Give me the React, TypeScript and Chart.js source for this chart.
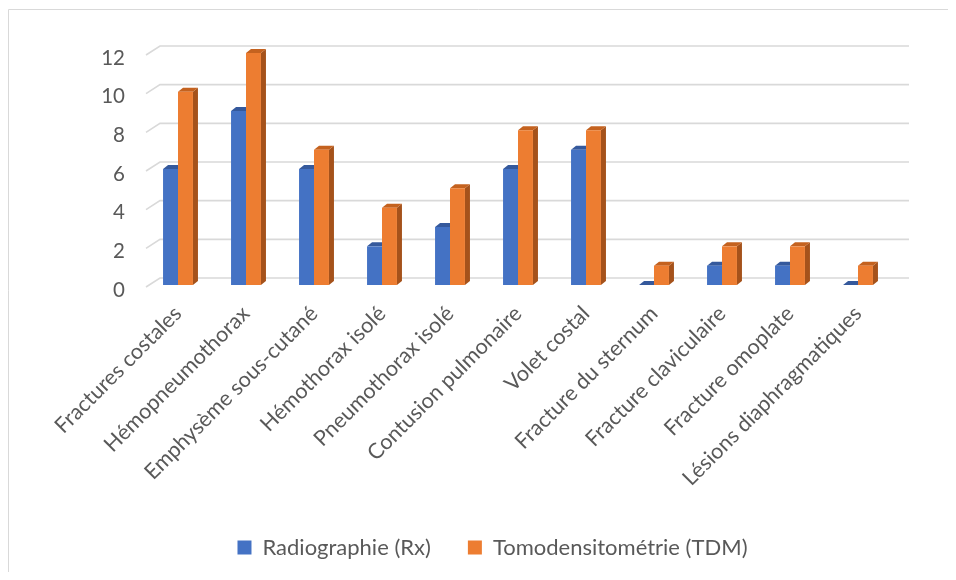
import React, { useEffect, useRef } from "react";
import { Chart, registerables } from "chart.js";

Chart.register(...registerables);

const categories = [
  "Fractures costales",
  "Hémopneumothorax",
  "Emphysème sous-cutané",
  "Hémothorax isolé",
  "Pneumothorax isolé",
  "Contusion pulmonaire",
  "Volet costal",
  "Fracture du sternum",
  "Fracture claviculaire",
  "Fracture omoplate",
  "Lésions diaphragmatiques",
];
const rxValues = [6, 9, 6, 2, 3, 6, 7, 0, 1, 1, 0];
const tdmValues = [10, 12, 7, 4, 5, 8, 8, 1, 2, 2, 1];
const seriesNames = ["Radiographie (Rx)", "Tomodensitométrie (TDM)"];
const yMin = 0;
const yMax = 12;
const yStep = 2;

const FONT = "Lato, 'Open Sans', sans-serif";
const TEXT = "#595959";
const front = ["#4472C4", "#ED7D31"];
const topCol = ["#35599C", "#C4621F"];
const sideCol = ["#2F5597", "#A5521B"];

const depthPlugin = {
  id: "depth3d",
  beforeDraw(chart: any) {
    const { ctx, width, height } = chart;
    ctx.save();
    ctx.strokeStyle = "#d9d9d9";
    ctx.lineWidth = 1;
    ctx.beginPath();
    ctx.moveTo(0.5, height);
    ctx.lineTo(0.5, 1.5);
    ctx.lineTo(width, 1.5);
    ctx.stroke();
    ctx.restore();
  },
  beforeDatasetsDraw(chart: any) {
    const { ctx, chartArea } = chart;
    const ys = chart.scales.y;
    ctx.save();
    ctx.strokeStyle = "#d9d9d9";
    ctx.lineWidth = 1.6;
    ys.ticks.forEach((t: any) => {
      const p = ys.getPixelForValue(t.value);
      ctx.beginPath();
      ctx.moveTo(chartArea.left + 2, p + 2);
      ctx.lineTo(chartArea.left + 16, p - 7);
      ctx.lineTo(chartArea.right + 17, p - 7);
      ctx.stroke();
    });
    const dx = 5;
    const dy = 4;
    chart.data.datasets.forEach((_: any, di: number) => {
      const meta = chart.getDatasetMeta(di);
      meta.data.forEach((el: any) => {
        const { x, y, base, width } = el.getProps(["x", "y", "base", "width"], true);
        const l = x - width / 2;
        const r = x + width / 2;
        ctx.fillStyle = sideCol[di];
        ctx.beginPath();
        ctx.moveTo(r, y);
        ctx.lineTo(r + dx, y - dy);
        ctx.lineTo(r + dx, base - dy);
        ctx.lineTo(r, base);
        ctx.closePath();
        ctx.fill();
        ctx.fillStyle = topCol[di];
        ctx.beginPath();
        ctx.moveTo(l, y);
        ctx.lineTo(l + dx, y - dy);
        ctx.lineTo(r + dx, y - dy);
        ctx.lineTo(r, y);
        ctx.closePath();
        ctx.fill();
      });
    });
    ctx.restore();
  },
};

export default function App() {
  const ref = useRef<HTMLCanvasElement | null>(null);
  useEffect(() => {
    if (!ref.current) return;
    Chart.defaults.font.family = FONT;
    const chart = new Chart(ref.current, {
      type: "bar",
      data: {
        labels: categories,
        datasets: [
          {
            label: seriesNames[0],
            data: rxValues,
            backgroundColor: front[0],
            borderWidth: 0,
            categoryPercentage: 0.44,
            barPercentage: 1,
          },
          {
            label: seriesNames[1],
            data: tdmValues,
            backgroundColor: front[1],
            borderWidth: 0,
            categoryPercentage: 0.44,
            barPercentage: 1,
          },
        ],
      },
      options: {
        responsive: false,
        animation: false,
        layout: { padding: { left: 85, right: 56, top: 45, bottom: 3.5 } },
        plugins: {
          tooltip: { enabled: false },
          legend: {
            position: "bottom",
            labels: {
              boxWidth: 14,
              boxHeight: 14,
              padding: 37,
              color: TEXT,
              font: { size: 22, family: FONT },
            },
          },
        },
        scales: {
          x: {
            grid: { display: false, drawTicks: false },
            border: { display: false },
            ticks: {
              autoSkip: false,
              minRotation: 45,
              maxRotation: 45,
              padding: 16,
              color: TEXT,
              font: { size: 21.5, family: FONT },
            },
            afterFit: (s: any) => {
              s.height = 214.5;
            },
          },
          y: {
            min: yMin,
            max: yMax,
            grid: { display: false, drawTicks: false },
            border: { display: false },
            ticks: {
              stepSize: yStep,
              padding: 19,
              labelOffset: 5,
              color: TEXT,
              font: { size: 20.5, family: FONT },
            },
            afterFit: (s: any) => {
              s.width = 51;
            },
          },
        },
      },
      plugins: [depthPlugin],
    });
    return () => chart.destroy();
  }, []);
  return <canvas ref={ref} width={940} height={564} style={{ display: "block" }} />;
}
